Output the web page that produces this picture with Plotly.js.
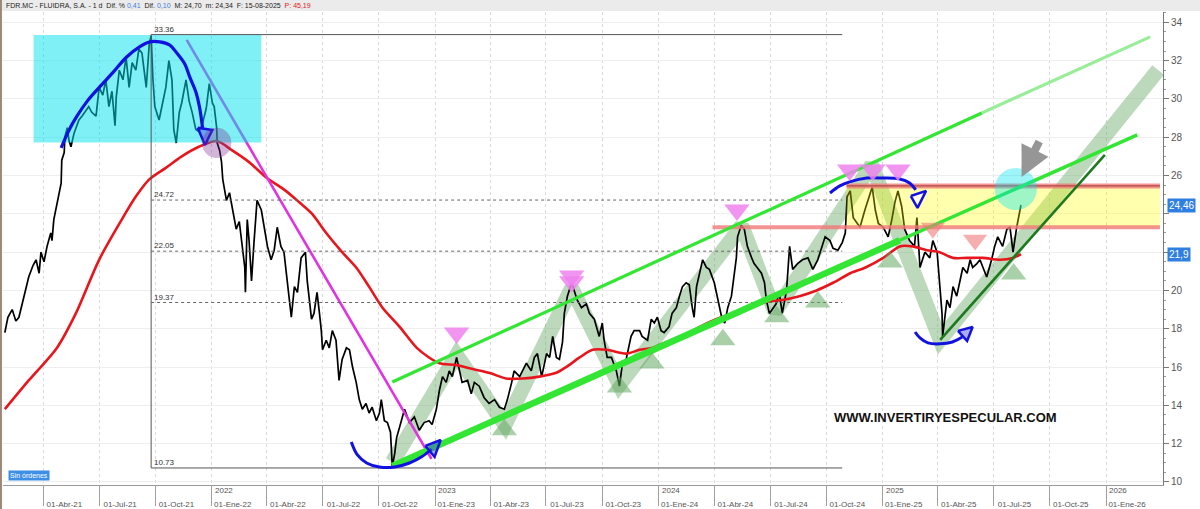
<!DOCTYPE html>
<html><head><meta charset="utf-8">
<script src="https://cdn.plot.ly/plotly-3.0.1.min.js"></script>
<style>html,body{margin:0;padding:0;background:#fff;}#chart{width:1200px;height:509px;}</style>
</head><body><div id="chart"></div>
<script>
// ---------- DATA ----------
const priceDates = ['2021-01-28','2021-02-02','2021-02-09','2021-02-15','2021-02-20','2021-02-25','2021-03-04','2021-03-08','2021-03-15','2021-03-20','2021-03-25','2021-03-28','2021-04-02','2021-04-07','2021-04-13','2021-04-15','2021-04-18','2021-04-22','2021-04-26','2021-04-30','2021-05-01','2021-05-05','2021-05-06','2021-05-10','2021-05-13','2021-05-16','2021-05-21','2021-05-24','2021-05-29','2021-06-03','2021-06-10','2021-06-14','2021-06-19','2021-06-26','2021-07-01','2021-07-07','2021-07-12','2021-07-17','2021-07-22','2021-07-27','2021-07-29','2021-08-03','2021-08-09','2021-08-14','2021-08-19','2021-08-24','2021-08-30','2021-09-04','2021-09-09','2021-09-16','2021-09-21','2021-09-24','2021-09-27','2021-09-30','2021-10-07','2021-10-12','2021-10-18','2021-10-23','2021-10-28','2021-10-31','2021-11-04','2021-11-09','2021-11-13','2021-11-20','2021-11-25','2021-11-30','2021-12-06','2021-12-11','2021-12-16','2021-12-23','2021-12-28',
'2022-01-02','2022-01-05','2022-01-09','2022-01-10','2022-01-14','2022-01-17','2022-01-19','2022-01-25','2022-01-30','2022-02-04','2022-02-10','2022-02-15','2022-02-19','2022-02-24','2022-02-25','2022-02-28','2022-03-03','2022-03-07','2022-03-11','2022-03-16','2022-03-23','2022-03-28','2022-04-02','2022-04-08','2022-04-13','2022-04-18','2022-04-24','2022-04-29','2022-05-04','2022-05-11','2022-05-16','2022-05-21','2022-05-27','2022-06-03','2022-06-06','2022-06-13','2022-06-17','2022-06-22','2022-06-26','2022-06-29','2022-07-01','2022-07-07','2022-07-12','2022-07-17','2022-07-23','2022-07-28','2022-08-02','2022-08-09','2022-08-14','2022-08-19','2022-08-25','2022-08-30','2022-09-04','2022-09-10','2022-09-15','2022-09-20','2022-09-27','2022-10-02','2022-10-05','2022-10-10','2022-10-15','2022-10-20','2022-10-23','2022-10-27','2022-10-30','2022-11-04','2022-11-12','2022-11-20','2022-11-28','2022-12-06','2022-12-14','2022-12-22','2022-12-27',
'2023-01-03','2023-01-08','2023-01-13','2023-01-19','2023-01-24','2023-01-29','2023-02-05','2023-02-10','2023-02-14','2023-02-23','2023-03-01','2023-03-06','2023-03-14','2023-03-22','2023-03-30','2023-04-08','2023-04-16','2023-04-24','2023-04-29','2023-05-06','2023-05-10','2023-05-19','2023-05-24','2023-05-30','2023-06-07','2023-06-12','2023-06-17','2023-06-24','2023-07-02','2023-07-07','2023-07-12','2023-07-18','2023-07-23','2023-07-28','2023-07-31','2023-08-05','2023-08-12','2023-08-16','2023-08-21','2023-08-28','2023-09-05','2023-09-10','2023-09-18','2023-09-26','2023-10-01','2023-10-04','2023-10-09','2023-10-16','2023-10-24','2023-10-29','2023-11-03','2023-11-09','2023-11-17','2023-11-22','2023-12-01','2023-12-05','2023-12-14','2023-12-20','2023-12-25','2023-12-30',
'2024-01-05','2024-01-10','2024-01-18','2024-01-23','2024-01-30','2024-02-04','2024-02-09','2024-02-15','2024-02-20','2024-02-25','2024-02-28','2024-03-03','2024-03-08','2024-03-13','2024-03-19','2024-03-24','2024-04-01','2024-04-06','2024-04-13','2024-04-18','2024-04-23','2024-04-29','2024-05-04','2024-05-07','2024-05-09','2024-05-15','2024-05-20','2024-05-25','2024-06-01','2024-06-05','2024-06-10','2024-06-17','2024-06-22','2024-06-25','2024-06-30','2024-07-05','2024-07-11','2024-07-16','2024-07-21','2024-07-28','2024-08-02','2024-08-07','2024-08-15','2024-08-23','2024-09-01','2024-09-09','2024-09-17','2024-09-29','2024-10-07','2024-10-12','2024-10-20','2024-10-27','2024-11-01','2024-11-04','2024-11-09','2024-11-14','2024-11-20','2024-11-25','2024-12-03','2024-12-08','2024-12-15','2024-12-20','2024-12-25',
'2025-01-02','2025-01-10','2025-01-16','2025-01-21','2025-01-26','2025-02-01','2025-02-06','2025-02-14','2025-02-22','2025-02-26','2025-03-03','2025-03-11','2025-03-19','2025-03-24','2025-03-31','2025-04-04','2025-04-08','2025-04-09','2025-04-16','2025-04-21','2025-04-26','2025-05-02','2025-05-07','2025-05-12','2025-05-19','2025-05-24','2025-05-28','2025-06-04','2025-06-09','2025-06-14','2025-06-20','2025-06-28','2025-07-03','2025-07-08','2025-07-16','2025-07-23','2025-07-28','2025-08-02','2025-08-08','2025-08-15'];
const priceClose = [17.8,18.6,19.0,18.4,18.6,19.3,20.2,20.7,21.3,21.6,20.9,22.0,21.5,22.3,23.0,22.6,23.7,24.4,25.1,25.6,26.8,27.2,28.0,28.5,27.8,27.5,28.2,28.5,28.9,29.1,29.4,29.6,29.3,29.1,30.6,30.2,31.0,29.6,30.4,28.6,30.1,31.5,31.0,32.2,30.6,31.9,31.5,32.6,32.4,30.6,32.9,33.3,31.0,29.6,28.9,29.6,30.6,32.0,31.0,28.4,27.7,29.3,29.8,31.0,29.9,29.3,28.4,28.3,28.6,29.5,30.8,
29.8,29.6,28.5,27.7,27.3,26.7,25.8,24.7,25.1,24.2,23.2,23.6,22.5,21.2,19.9,23.7,22.6,20.5,22.5,24.7,24.2,23.3,22.3,21.6,22.1,23.3,22.3,22.0,20.5,18.6,20.2,19.9,21.7,22.0,20.5,18.5,18.8,19.9,18.8,17.9,16.9,17.4,17.0,17.9,17.4,15.3,16.4,17.0,16.9,16.0,15.2,14.3,13.8,14.1,13.6,13.9,13.2,13.6,14.3,13.2,13.1,12.6,10.8,11.5,12.3,12.9,13.8,13.1,13.4,12.7,13.1,13.2,13.0,
13.8,14.8,15.5,15.2,15.8,15.5,16.5,15.8,15.2,15.3,14.6,15.2,15.0,14.4,14.1,14.3,13.9,13.8,14.3,15.2,15.8,15.5,15.8,16.2,15.8,16.5,16.7,15.5,16.7,16.5,17.6,16.5,16.4,17.3,18.8,19.7,20.4,20.0,19.5,19.1,19.3,18.8,18.5,17.6,18.3,17.4,16.5,16.5,15.8,15.0,16.2,16.4,17.6,17.9,17.9,17.6,17.4,18.5,18.3,18.6,
17.9,17.8,18.1,18.8,19.1,19.7,20.2,20.4,20.3,19.1,18.6,20.2,20.9,21.6,21.2,21.1,20.4,19.7,18.6,18.3,19.1,19.7,20.9,21.7,22.8,23.4,23.2,22.3,21.7,21.4,21.2,20.9,20.4,19.5,18.8,19.0,19.3,19.9,18.8,20.0,22.3,21.1,21.4,21.6,21.7,21.1,21.6,22.8,22.6,22.2,22.1,22.5,23.0,24.9,25.2,23.8,23.5,23.3,24.2,24.7,25.4,24.2,23.5,
23.3,22.8,23.7,24.6,25.2,24.4,23.2,22.6,22.3,23.8,21.2,22.0,21.7,22.6,22.0,20.4,18.8,17.6,19.5,19.1,20.2,19.7,20.5,21.2,20.9,21.6,21.2,21.4,21.6,21.2,20.7,21.6,22.3,22.8,22.3,23.2,23.3,22.0,23.3,24.46];

const maDates = ['2021-01-28','2021-03-08','2021-04-23','2021-05-24','2021-07-01','2021-08-07','2021-08-30','2021-09-21','2021-10-18','2021-11-13','2021-12-11','2022-01-09','2022-02-04','2022-03-03','2022-03-31','2022-05-02','2022-05-24','2022-06-14','2022-07-07','2022-08-02','2022-08-25','2022-09-15','2022-10-07','2022-11-04','2022-12-02','2022-12-22','2023-01-08','2023-02-05','2023-03-03','2023-03-30','2023-04-27','2023-05-24','2023-06-20','2023-07-18','2023-08-03','2023-08-25','2023-09-15','2023-10-08','2023-11-09','2023-12-01','2023-12-21','2024-01-14','2024-02-09','2024-03-08','2024-04-04','2024-05-01','2024-05-28','2024-06-25','2024-07-21','2024-08-18','2024-09-15','2024-10-12','2024-11-09','2024-12-04','2025-01-02','2025-01-29','2025-02-19','2025-03-14','2025-04-04','2025-04-26','2025-05-19','2025-06-14','2025-07-12','2025-08-02','2025-08-15'];
const maValues = [13.8,15.3,17.0,18.8,21.6,23.7,24.9,25.8,26.4,27.0,27.5,27.8,27.3,26.7,25.9,25.2,24.6,24.0,23.0,22.0,21.2,20.2,19.1,18.1,17.0,16.5,16.2,16.1,15.9,15.7,15.4,15.4,15.5,15.7,16.0,16.5,16.9,16.9,16.7,16.9,17.0,17.3,17.6,18.1,18.5,18.8,19.1,19.4,19.5,19.7,20.0,20.4,20.9,21.2,21.7,22.3,22.3,22.1,22.0,21.7,21.7,21.7,21.6,21.7,21.9];

// Fibonacci retracement
const fibLevels = [33.36, 24.72, 22.05, 19.37, 10.73];
const fibLabels = ['33.36','24.72','22.05','19.37','10.73'];
const fibStart = '2021-09-24', fibEnd = '2024-10-27';

// Analyst drawings (date / price)
const topZone = {start:'2021-03-16', end:'2022-03-23', low:27.72, high:33.34};
const resistZone = {start:'2024-11-03', end:'2026-03-30', low:23.3, high:25.46, supportStart:'2024-03-29'};
const bearLine = {dates:['2021-11-21','2022-12-26'], values:[33.08,11.2]};
const channelUpper = {dates:['2022-10-23','2025-06-12'], values:[15.22,29.27]};
const channelUpperExt = {dates:['2025-06-12','2026-03-14'], values:[29.27,33.24]};
const channelLower = {dates:['2022-10-23','2025-01-29'], values:[10.84,22.62]};
const channelLowerExt = {dates:['2025-01-29','2026-02-21'], values:[22.62,28.12]};
const supportLine2025 = {dates:['2025-04-05','2025-12-30'], values:[17.42,27.08]};
const zigDates = ['2022-10-23','2023-02-05','2023-04-25','2023-08-12','2023-10-29','2024-05-16','2024-07-09','2024-12-14','2025-04-05','2026-03-27'];
const zigValues = [11.04,16.63,12.98,20.13,15.07,23.37,18.88,26.55,17.42,31.51];
const domeDates = ['2021-04-30','2021-05-13','2021-05-25','2021-06-12','2021-07-02','2021-07-23','2021-08-15','2021-09-05','2021-09-22','2021-10-08','2021-10-24','2021-11-05','2021-11-18','2021-11-26','2021-12-06','2021-12-12','2021-12-17'];
const domeValues = [27.44,28.38,29.06,29.9,30.63,31.36,32.19,32.72,32.98,32.98,32.82,32.4,31.83,31.15,30.37,29.58,28.49];
const domeHead = {dates:['2021-12-09','2022-01-02','2021-12-21','2021-12-09'], values:[28.49,28.38,27.6,28.49]};
const cup1Dates = ['2022-08-17','2022-08-27','2022-09-11','2022-10-02','2022-10-27','2022-11-20','2022-12-10','2022-12-26'];
const cup1Values = [12.09,11.41,10.99,10.78,10.78,10.99,11.31,11.72];
const cup1Head = {dates:['2022-12-16','2023-01-10','2022-12-31','2022-12-16'], values:[11.88,12.19,11.31,11.88]};
const cup2Dates = ['2025-02-23','2025-03-03','2025-03-16','2025-04-05','2025-04-25','2025-05-11'];
const cup2Values = [17.83,17.52,17.26,17.21,17.31,17.57];
const cup2Head = {dates:['2025-05-04','2025-05-28','2025-05-19','2025-05-04'], values:[17.89,18.09,17.36,17.89]};
const capDates = ['2024-10-07','2024-10-23','2024-11-08','2024-12-06','2025-01-01','2025-01-29','2025-02-14','2025-02-24'];
const capValues = [25.09,25.46,25.67,25.87,25.87,25.82,25.61,25.25];
const capHead = {dates:['2025-02-16','2025-03-13','2025-02-27','2025-02-16'], values:[24.93,25.2,24.31,24.93]};
const peakDates = ['2023-02-05','2023-08-12','2023-08-12','2024-05-08','2024-11-08','2024-12-16','2025-01-26'];
const peakValues = [17.78,20.75,20.45,24.2,26.29,26.29,26.29];
const lowerHighDates = ['2025-03-24','2025-06-01'];
const lowerHighValues = [23.26,22.64];
const troughDates = ['2023-04-24','2023-10-29','2023-12-21','2024-04-15','2024-07-12','2024-09-17','2025-01-13','2025-08-03'];
const troughValues = [12.72,14.96,16.21,17.42,18.62,19.4,21.49,20.86];
const topCircle = {x0:'2021-12-16', x1:'2022-02-02', y0:26.92, y1:28.49};
const breakCircle = {x0:'2025-07-03', x1:'2025-09-10', y0:24.2, y1:26.4};
const breakArrow = {tail:['2025-09-15',27.86], tip:['2025-08-16',25.93]};
const siteLabel = {date:'2025-04-13', value:13.34, text:'WWW.INVERTIRYESPECULAR.COM'};

const quarterTicks = ['2021-04-01','2021-07-01','2021-10-01','2022-01-01','2022-04-01','2022-07-01','2022-10-01','2023-01-01','2023-04-01','2023-07-01','2023-10-01','2024-01-01','2024-04-01','2024-07-01','2024-10-01','2025-01-01','2025-04-01','2025-07-01','2025-10-01','2026-01-01'];
const quarterLabels = ['01-Abr-21','01-Jul-21','01-Oct-21','01-Ene-22','01-Abr-22','01-Jul-22','01-Oct-22','01-Ene-23','01-Abr-23','01-Jul-23','01-Oct-23','01-Ene-24','01-Abr-24','01-Jul-24','01-Oct-24','01-Ene-25','01-Abr-25','01-Jul-25','01-Oct-25','01-Ene-26'];
const yearTicks = ['2022-01-01','2023-01-01','2024-01-01','2025-01-01','2026-01-01'];
const yearLabels = ['2022','2023','2024','2025','2026'];
const priceTicks = [10,12,14,16,18,20,22,24,26,28,30,32,34];
// labels 22 and 24 sit under the last-value boxes, as in the reference
const priceTickLabels = ['10','12','14','16','18','20','','','26','28','30','32','34'];
const lastPrice = 24.46, lastMA = 21.9;
const headerText = "FDR.MC - FLUIDRA, S.A. - 1 d  Dif. % <span style='color:#3b7be0'>0,41</span>  Dif. <span style='color:#3b7be0'>0,10</span>  M: 24,70  m: 24,34  F: 15-08-2025  <span style='color:#e02020'>P: 45,19</span>";

// ---------- TRACES ----------
const L = (x,y,color,width,extra) => Object.assign({type:'scatter',mode:'lines',x:x,y:y,line:{color:color,width:width},hoverinfo:'skip'},extra||{});
const box = (z,fill) => ({type:'scatter',mode:'lines',x:[z.start,z.end,z.end,z.start,z.start],y:[z.low,z.low,z.high,z.high,z.low],fill:'toself',fillcolor:fill,line:{width:0},hoverinfo:'skip'});
const head = (h) => ({type:'scatter',mode:'lines',x:h.dates,y:h.values,fill:'toself',fillcolor:'rgba(70,70,235,0.45)',line:{color:'#1212e0',width:2.5},hoverinfo:'skip'});

const traces = [];
traces.push(L(zigDates,zigValues,'rgba(95,165,95,0.42)',15));
traces.push(L(priceDates,priceClose,'#000',1.7));
traces.push(L(maDates,maValues,'#e8161c',2.6,{line:{color:'#e8161c',width:2.6,shape:'spline',smoothing:0.8}}));
traces.push(L(bearLine.dates,bearLine.values,'#e033e0',2.6));
traces.push(box(topZone,'rgba(0,226,236,0.5)'));
traces.push(box(resistZone,'rgba(255,255,0,0.32)'));
// Fibonacci lines
traces.push(L([fibStart,fibStart],[fibLevels[0],fibLevels[4]],'#555',1));
fibLevels.forEach((lv,i)=>{
  const solid = (i===0||i===fibLevels.length-1);
  traces.push(L([fibStart,fibEnd],[lv,lv],solid?'#555':'#666',1,{line:{color:solid?'#555':'#666',width:1,dash:solid?'solid':'dot'}}));
});
// resistance / support horizontal lines
traces.push(L([resistZone.supportStart,resistZone.end],[resistZone.low,resistZone.low],'rgba(240,120,120,0.8)',4));
traces.push(L([resistZone.start,resistZone.end],[resistZone.high,resistZone.high],'rgba(240,120,120,0.8)',5));
traces.push(L([resistZone.start,resistZone.end],[resistZone.high,resistZone.high],'#a03a3a',1));
// channel lines
traces.push(L(channelLower.dates,channelLower.values,'#33e633',6.5));
traces.push(L(channelLowerExt.dates,channelLowerExt.values,'#33e633',3.5));
traces.push(L(channelUpper.dates,channelUpper.values,'#33e633',3.2));
traces.push(L(channelUpperExt.dates,channelUpperExt.values,'#98ee98',3.2));
traces.push(L(supportLine2025.dates,supportLine2025.values,'#1e7a1e',2.6));
// blue arcs
traces.push(L(domeDates,domeValues,'#1212e0',3.2,{line:{color:'#1212e0',width:3.2,shape:'spline'}}));
traces.push(head(domeHead));
traces.push(L(cup1Dates,cup1Values,'#1212e0',3,{line:{color:'#1212e0',width:3,shape:'spline'}}));
traces.push(head(cup1Head));
traces.push(L(cup2Dates,cup2Values,'#1212e0',3,{line:{color:'#1212e0',width:3,shape:'spline'}}));
traces.push(head(cup2Head));
traces.push(L(capDates,capValues,'#1212e0',3,{line:{color:'#1212e0',width:3,shape:'spline'}}));
traces.push(Object.assign(head(capHead),{fillcolor:'rgba(255,255,255,0.9)'}));
// triangles
traces.push({type:'scatter',mode:'markers',x:peakDates,y:peakValues,marker:{symbol:'triangle-down',size:22,color:'rgba(238,130,238,0.85)',line:{width:0}},hoverinfo:'skip'});
traces.push({type:'scatter',mode:'markers',x:lowerHighDates,y:lowerHighValues,marker:{symbol:'triangle-down',size:21,color:'rgba(240,120,120,0.6)',line:{width:0}},hoverinfo:'skip'});
traces.push({type:'scatter',mode:'markers',x:troughDates,y:troughValues,marker:{symbol:'triangle-up',size:22,color:'rgba(100,170,100,0.55)',line:{width:0}},hoverinfo:'skip'});

// ---------- LAYOUT ----------
const annotations = [];
annotations.push({xref:'paper',yref:'paper',x:0.001,y:1.0137,xanchor:'left',yanchor:'middle',text:headerText,showarrow:false,font:{size:7,color:'#222'}});
fibLevels.forEach((lv,i)=>annotations.push({x:fibStart,y:lv,xanchor:'left',yanchor:'bottom',xshift:1,yshift:-1,text:fibLabels[i],showarrow:false,font:{size:8,color:'#333'}}));
yearTicks.forEach((d,i)=>annotations.push({x:d,xref:'x',yref:'paper',y:-0.0106,xanchor:'left',yanchor:'middle',xshift:1,text:yearLabels[i],showarrow:false,font:{size:8,color:'#555'}}));
annotations.push({x:siteLabel.date,y:siteLabel.value,text:'<b>'+siteLabel.text+'</b>',showarrow:false,font:{size:13,color:'#111',family:'Liberation Sans, Arial, sans-serif'}});
annotations.push({x:breakArrow.tip[0],y:breakArrow.tip[1],ax:breakArrow.tail[0],ay:breakArrow.tail[1],axref:'x',ayref:'y',text:'',showarrow:true,arrowhead:2,arrowsize:0.75,arrowwidth:8,arrowcolor:'rgba(145,145,145,0.95)'});
annotations.push({xref:'paper',yref:'paper',x:0.0043,y:0.0211,xanchor:'left',yanchor:'middle',text:'Sin órdenes',showarrow:false,bgcolor:'#3d8fe6',borderpad:1,font:{size:7,color:'#fff'}});
annotations.push({xref:'paper',x:1,xshift:4,xanchor:'left',y:lastPrice,yanchor:'middle',text:'24,46',showarrow:false,bgcolor:'#2f7fe2',borderpad:1,font:{size:10,color:'#fff'}});
annotations.push({xref:'paper',x:1,xshift:4,xanchor:'left',y:lastMA,yanchor:'middle',text:'21,9',showarrow:false,bgcolor:'#2f7fe2',borderpad:1,font:{size:10,color:'#fff'}});

const shapes = [
  {type:'rect',xref:'paper',yref:'paper',x0:-0.01,x1:1.04,y0:1.0021,y1:1.03,fillcolor:'#ebebeb',line:{width:0},layer:'above'},
  {type:'rect',xref:'paper',yref:'paper',x0:-0.0027,x1:-0.0009,y0:-0.06,y1:1.03,fillcolor:'#a08676',line:{width:0},layer:'above'},
  {type:'circle',xref:'x',yref:'y',x0:topCircle.x0,x1:topCircle.x1,y0:topCircle.y0,y1:topCircle.y1,fillcolor:'rgba(125,45,145,0.35)',line:{width:0},layer:'above'},
  {type:'circle',xref:'x',yref:'y',x0:breakCircle.x0,x1:breakCircle.x1,y0:breakCircle.y0,y1:breakCircle.y1,fillcolor:'rgba(0,228,240,0.38)',line:{width:0},layer:'above'}
];

const layout = {
  width:1200,height:509,
  margin:{l:3,r:37,t:12,b:24,pad:0},
  paper_bgcolor:'#fff',plot_bgcolor:'#fff',
  showlegend:false,
  font:{family:'Liberation Sans, Arial, sans-serif',size:9,color:'#444'},
  xaxis:{type:'date',range:['2021-01-25','2026-04-04'],tickmode:'array',tickvals:quarterTicks,ticktext:quarterLabels,
         ticks:'outside',ticklen:20,tickcolor:'#a0a0a0',tickfont:{size:8,color:'#555'},ticklabelshift:21,ticklabelstandoff:-9,
         showgrid:true,gridcolor:'#d9d9d9',griddash:'3px,3px',showline:true,linecolor:'#9a9a9a',linewidth:1,zeroline:false,fixedrange:true},
  yaxis:{side:'right',range:[9.84,34.54],tickmode:'array',tickvals:priceTicks,ticktext:priceTickLabels,ticks:'outside',ticklen:5,tickcolor:'#777',tickfont:{size:10,color:'#555'},
         showline:true,linecolor:'#777',linewidth:1,showgrid:true,gridcolor:'#eeeeee',zeroline:false,fixedrange:true,
         minor:{dtick:0.5,ticks:'outside',ticklen:2,tickcolor:'#999',showgrid:false}},
  shapes:shapes,annotations:annotations
};
Plotly.newPlot('chart',traces,layout,{displayModeBar:false,staticPlot:true});
</script></body></html>
